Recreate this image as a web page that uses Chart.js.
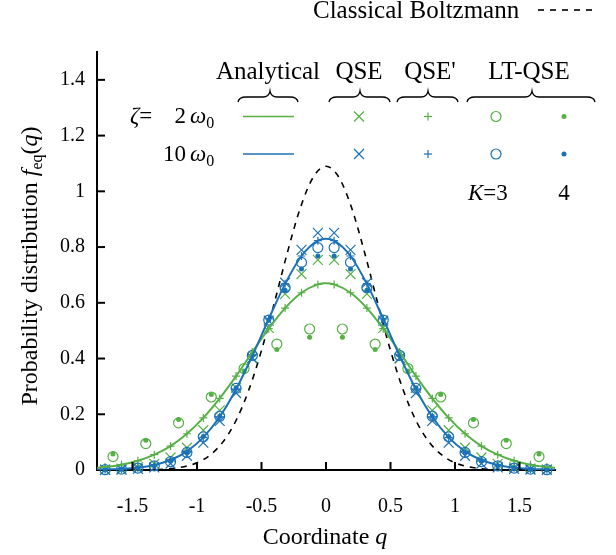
<!DOCTYPE html>
<html>
<head>
<meta charset="utf-8">
<script src="https://cdn.jsdelivr.net/npm/chart.js@4.4.1/dist/chart.umd.min.js"></script>
<style>
  html, body { margin: 0; padding: 0; background: #fff; }
  #wrap { width: 616px; height: 555px; }
</style>
</head>
<body>
<div id="wrap"><canvas id="grafico" width="616" height="555"></canvas></div>
<script>
// grids (cell centres)
const qFino = [-1.712,-1.585,-1.458,-1.331,-1.205,-1.078,-0.951,-0.824,-0.697,-0.571,-0.444,-0.317,-0.190,-0.063,
               0.063,0.190,0.317,0.444,0.571,0.697,0.824,0.951,1.078,1.205,1.331,1.458,1.585,1.712]
const qGrosso = [-1.651,-1.397,-1.143,-0.889,-0.635,-0.381,-0.127,0.127,0.381,0.635,0.889,1.143,1.397,1.651]
const qCurva = [-1.775,-1.712,-1.585,-1.458,-1.331,-1.205,-1.078,-0.951,-0.824,-0.697,-0.571,-0.444,-0.317,-0.190,-0.063,0,
                0.063,0.190,0.317,0.444,0.571,0.697,0.824,0.951,1.078,1.205,1.331,1.458,1.585,1.712,1.775]
const qClassico = [-1.775,-1.6,-1.4,-1.3,-1.2,-1.1,-1.0,-0.9,-0.8,-0.7,-0.6,-0.5,-0.4,-0.3,-0.2,-0.1,0,
                   0.1,0.2,0.3,0.4,0.5,0.6,0.7,0.8,0.9,1.0,1.1,1.2,1.3,1.4,1.6,1.775]

const xTicks = [-1.5,-1,-0.5,0,0.5,1,1.5]
const yTicks = [0,0.2,0.4,0.6,0.8,1,1.2,1.4]

// classical Boltzmann (dashed)
const fClassico = [0,0,0.001,0.002,0.005,0.012,0.026,0.053,0.100,0.175,0.285,0.429,0.600,0.779,0.939,1.050,1.090,
                   1.050,0.939,0.779,0.600,0.429,0.285,0.175,0.100,0.053,0.026,0.012,0.005,0.002,0.001,0,0]

// analytical, zeta = 2 w0 and 10 w0
const fAnalitico2 = [0.008,0.011,0.019,0.033,0.055,0.086,0.130,0.187,0.257,0.337,0.423,0.507,0.581,0.636,0.666,0.670,
                     0.666,0.636,0.581,0.507,0.423,0.337,0.257,0.187,0.130,0.086,0.055,0.033,0.019,0.011,0.008]
const fAnalitico10 = [0.001,0.002,0.004,0.008,0.018,0.036,0.067,0.117,0.191,0.290,0.410,0.542,0.668,0.768,0.823,0.830,
                      0.823,0.768,0.668,0.542,0.410,0.290,0.191,0.117,0.067,0.036,0.018,0.008,0.004,0.002,0.001]

// zeta = 2 w0
const fQSE2 = [0.002,0.005,0.010,0.022,0.045,0.080,0.143,0.214,0.295,0.400,0.510,0.632,0.703,0.754,
               0.754,0.703,0.632,0.510,0.400,0.295,0.214,0.143,0.080,0.045,0.022,0.010,0.005,0.002]
const fQSEp2 = [0.011,0.019,0.033,0.055,0.086,0.130,0.187,0.257,0.337,0.423,0.507,0.581,0.636,0.666,
                0.666,0.636,0.581,0.507,0.423,0.337,0.257,0.187,0.130,0.086,0.055,0.033,0.019,0.011]
const fLT3_2 = [0.048,0.095,0.169,0.262,0.364,0.452,0.506,0.506,0.452,0.364,0.262,0.169,0.095,0.048]
const fLT4_2 = [0.057,0.107,0.181,0.271,0.355,0.432,0.476,0.476,0.432,0.355,0.271,0.181,0.107,0.057]

// zeta = 10 w0
const fQSE10 = [0.000,0.001,0.004,0.009,0.023,0.051,0.098,0.176,0.276,0.402,0.536,0.672,0.790,0.851,
                0.851,0.790,0.672,0.536,0.402,0.276,0.176,0.098,0.051,0.023,0.009,0.004,0.001,0.000]
const fQSEp10 = [0.002,0.004,0.008,0.018,0.036,0.067,0.117,0.191,0.290,0.410,0.542,0.668,0.768,0.823,
                 0.823,0.768,0.668,0.542,0.410,0.290,0.191,0.117,0.067,0.036,0.018,0.008,0.004,0.002]
const fLT3_10 = [0.001,0.003,0.007,0.015,0.030,0.063,0.119,0.193,0.293,0.411,0.538,0.654,0.745,0.798,
                 0.798,0.745,0.654,0.538,0.411,0.293,0.193,0.119,0.063,0.030,0.015,0.007,0.003,0.001]
const fLT4_10 = [0.001,0.003,0.007,0.015,0.031,0.064,0.120,0.193,0.294,0.413,0.538,0.645,0.721,0.768,
                 0.768,0.721,0.645,0.538,0.413,0.294,0.193,0.120,0.064,0.031,0.015,0.007,0.003,0.001]

const verde = '#56b046'
const azul = '#1c72b8'
const serif = '"Liberation Serif", "Times New Roman", serif'

function pares(xs, ys) {
    return xs.map((x, i) => ({ x: x, y: ys[i] }))
}

function linha(ctx, x0, y0, x1, y1) {
    ctx.beginPath(); ctx.moveTo(x0, y0); ctx.lineTo(x1, y1); ctx.stroke()
}

// simple markers for the legend, same sizes as the datasets
function marcador(ctx, tipo, cor, x, y) {
    ctx.strokeStyle = cor; ctx.fillStyle = cor; ctx.lineWidth = 1.2
    if (tipo == 'x') {
        linha(ctx, x-5, y-5, x+5, y+5); linha(ctx, x-5, y+5, x+5, y-5)
    } else if (tipo == '+') {
        linha(ctx, x-4, y, x+4, y); linha(ctx, x, y-4, x, y+4)
    } else if (tipo == 'o') {
        ctx.beginPath(); ctx.arc(x, y, 5, 0, 2*Math.PI); ctx.stroke()
    } else {
        ctx.beginPath(); ctx.arc(x, y, 2.5, 0, 2*Math.PI); ctx.fill()
    }
}

function chave(ctx, x0, x1, xm, y) {
    ctx.beginPath()
    ctx.moveTo(x0, y+5)
    ctx.quadraticCurveTo(x0+1, y, x0+8, y)
    ctx.lineTo(xm-7, y)
    ctx.quadraticCurveTo(xm-1, y, xm, y-6)
    ctx.quadraticCurveTo(xm+1, y, xm+7, y)
    ctx.lineTo(x1-8, y)
    ctx.quadraticCurveTo(x1-1, y, x1, y+5)
    ctx.stroke()
}

// text made of pieces: [text, font, dy]
function trecho(ctx, partes, x, y, align) {
    let total = 0
    partes.forEach(p => { ctx.font = p[1]; total += ctx.measureText(p[0]).width })
    let cx = align == 'center' ? x - total/2 : (align == 'right' ? x - total : x)
    ctx.textAlign = 'left'
    partes.forEach(p => {
        ctx.font = p[1]
        ctx.fillText(p[0], cx, y + (p[2] || 0))
        cx += ctx.measureText(p[0]).width
    })
}

const legenda = {
    id: 'legenda',
    afterDraw(chart) {
        const ctx = chart.ctx
        const sx = chart.scales.x, sy = chart.scales.y
        ctx.save()

        // inward ticks
        ctx.strokeStyle = '#000'; ctx.lineWidth = 2
        xTicks.forEach(v => { const px = sx.getPixelForValue(v); linha(ctx, px, sy.bottom, px, sy.bottom - 8) })
        yTicks.forEach(v => { if (v == 0) return; const py = sy.getPixelForValue(v); linha(ctx, sx.left, py, sx.left + 8, py) })

        ctx.fillStyle = '#000'
        ctx.textBaseline = 'alphabetic'

        // axis titles
        trecho(ctx, [['Coordinate ', '24px ' + serif], ['q', 'italic 24px ' + serif]], 325, 544, 'center')
        ctx.save()
        ctx.translate(37, 266)
        ctx.rotate(-Math.PI/2)
        trecho(ctx, [['Probability distribution ', '24px ' + serif], ['f', 'italic 24px ' + serif],
                     ['eq', '16px ' + serif, 5], ['(', '24px ' + serif], ['q', 'italic 24px ' + serif],
                     [')', '24px ' + serif]], 0, 0, 'center')
        ctx.restore()

        // classical label
        ctx.font = '25px ' + serif
        ctx.textAlign = 'left'
        ctx.fillText('Classical Boltzmann', 313, 18)
        ctx.strokeStyle = '#000'; ctx.lineWidth = 1.6
        ctx.setLineDash([6, 6])
        linha(ctx, 538, 10, 594, 10)
        ctx.setLineDash([])

        // column headers and braces
        ctx.font = '25px ' + serif
        ctx.textAlign = 'center'
        ctx.fillText('Analytical', 268, 79)
        ctx.fillText('QSE', 359, 79)
        ctx.fillText("QSE'", 430, 79)
        ctx.fillText('LT-QSE', 529, 79)
        ctx.lineWidth = 1.3
        chave(ctx, 238, 298, 270, 97)
        chave(ctx, 329, 390, 360, 97)
        chave(ctx, 397, 458, 428, 97)
        chave(ctx, 467, 595, 532, 97)

        // rows
        const f = '23px ' + serif, fi = 'italic 23px ' + serif, fs = '16px ' + serif
        trecho(ctx, [['ζ', fi], ['=', f]], 130, 123, 'left')
        trecho(ctx, [['2', f]], 186, 123, 'right')
        trecho(ctx, [['ω', fi], ['0', fs, 5]], 190, 123, 'left')
        trecho(ctx, [['10', f]], 186, 161, 'right')
        trecho(ctx, [['ω', fi], ['0', fs, 5]], 190, 161, 'left')
        trecho(ctx, [['K', fi], ['=3', f]], 468, 200, 'left')
        trecho(ctx, [['4', f]], 564, 200, 'center')

        const linhas = [[verde, 116.5], [azul, 154]]
        linhas.forEach(l => {
            ctx.strokeStyle = l[0]; ctx.lineWidth = 1.6
            linha(ctx, 243, l[1], 294, l[1])
            marcador(ctx, 'x', l[0], 359, l[1])
            marcador(ctx, '+', l[0], 428, l[1])
            marcador(ctx, 'o', l[0], 496, l[1])
            marcador(ctx, '.', l[0], 564, l[1])
        })
        ctx.restore()
    }
}

const pontos = (xs, ys, cor, estilo, raio) => ({
    data: pares(xs, ys),
    showLine: false,
    pointStyle: estilo,
    pointRadius: raio,
    borderColor: cor,
    backgroundColor: estilo == 'circle' && raio < 4 ? cor : 'rgba(0,0,0,0)',
    borderWidth: estilo == 'circle' && raio < 4 ? 0 : 1.2,
    clip: false
})

const curva = (xs, ys, cor, largura, traco) => ({
    data: pares(xs, ys),
    showLine: true,
    pointRadius: 0,
    borderColor: cor,
    borderWidth: largura,
    borderDash: traco,
    cubicInterpolationMode: 'monotone',
    fill: false
})

new Chart(document.getElementById('grafico'), {
    type: 'scatter',
    data: {
        datasets: [
            curva(qCurva, fAnalitico10, azul, 2, []),
            curva(qCurva, fAnalitico2, verde, 2, []),
            pontos(qFino, fQSE10, azul, 'crossRot', 7),
            pontos(qFino, fQSEp10, azul, 'cross', 4),
            pontos(qFino, fLT3_10, azul, 'circle', 5),
            pontos(qFino, fLT4_10, azul, 'circle', 2.5),
            pontos(qFino, fQSE2, verde, 'crossRot', 7),
            pontos(qFino, fQSEp2, verde, 'cross', 4),
            pontos(qGrosso, fLT3_2, verde, 'circle', 5),
            pontos(qGrosso, fLT4_2, verde, 'circle', 2.5),
            curva(qClassico, fClassico, '#000', 1.6, [6, 6])
        ]
    },
    options: {
        responsive: false,
        animation: false,
        events: [],
        layout: { padding: { left: 0, right: 61, top: 52, bottom: 0 } },
        plugins: { legend: { display: false }, tooltip: { enabled: false } },
        scales: {
            x: {
                type: 'linear', min: -1.775, max: 1.775,
                grid: { display: false, drawTicks: false },
                border: { display: true, color: '#000', width: 2 },
                ticks: { color: '#000', font: { family: serif, size: 20 }, padding: 25, maxRotation: 0,
                         callback: v => String(v) },
                afterBuildTicks: s => { s.ticks = xTicks.map(v => ({ value: v })) },
                afterFit: s => { s.height = 85 }
            },
            y: {
                type: 'linear', min: 0, max: 1.5,
                grid: { display: false, drawTicks: false },
                border: { display: true, color: '#000', width: 2 },
                ticks: { color: '#000', font: { family: serif, size: 20 }, padding: 12,
                         callback: v => String(v) },
                afterBuildTicks: s => { s.ticks = yTicks.map(v => ({ value: v })) },
                afterFit: s => { s.width = 97 }
            }
        }
    },
    plugins: [legenda]
})
</script>
</body>
</html>
